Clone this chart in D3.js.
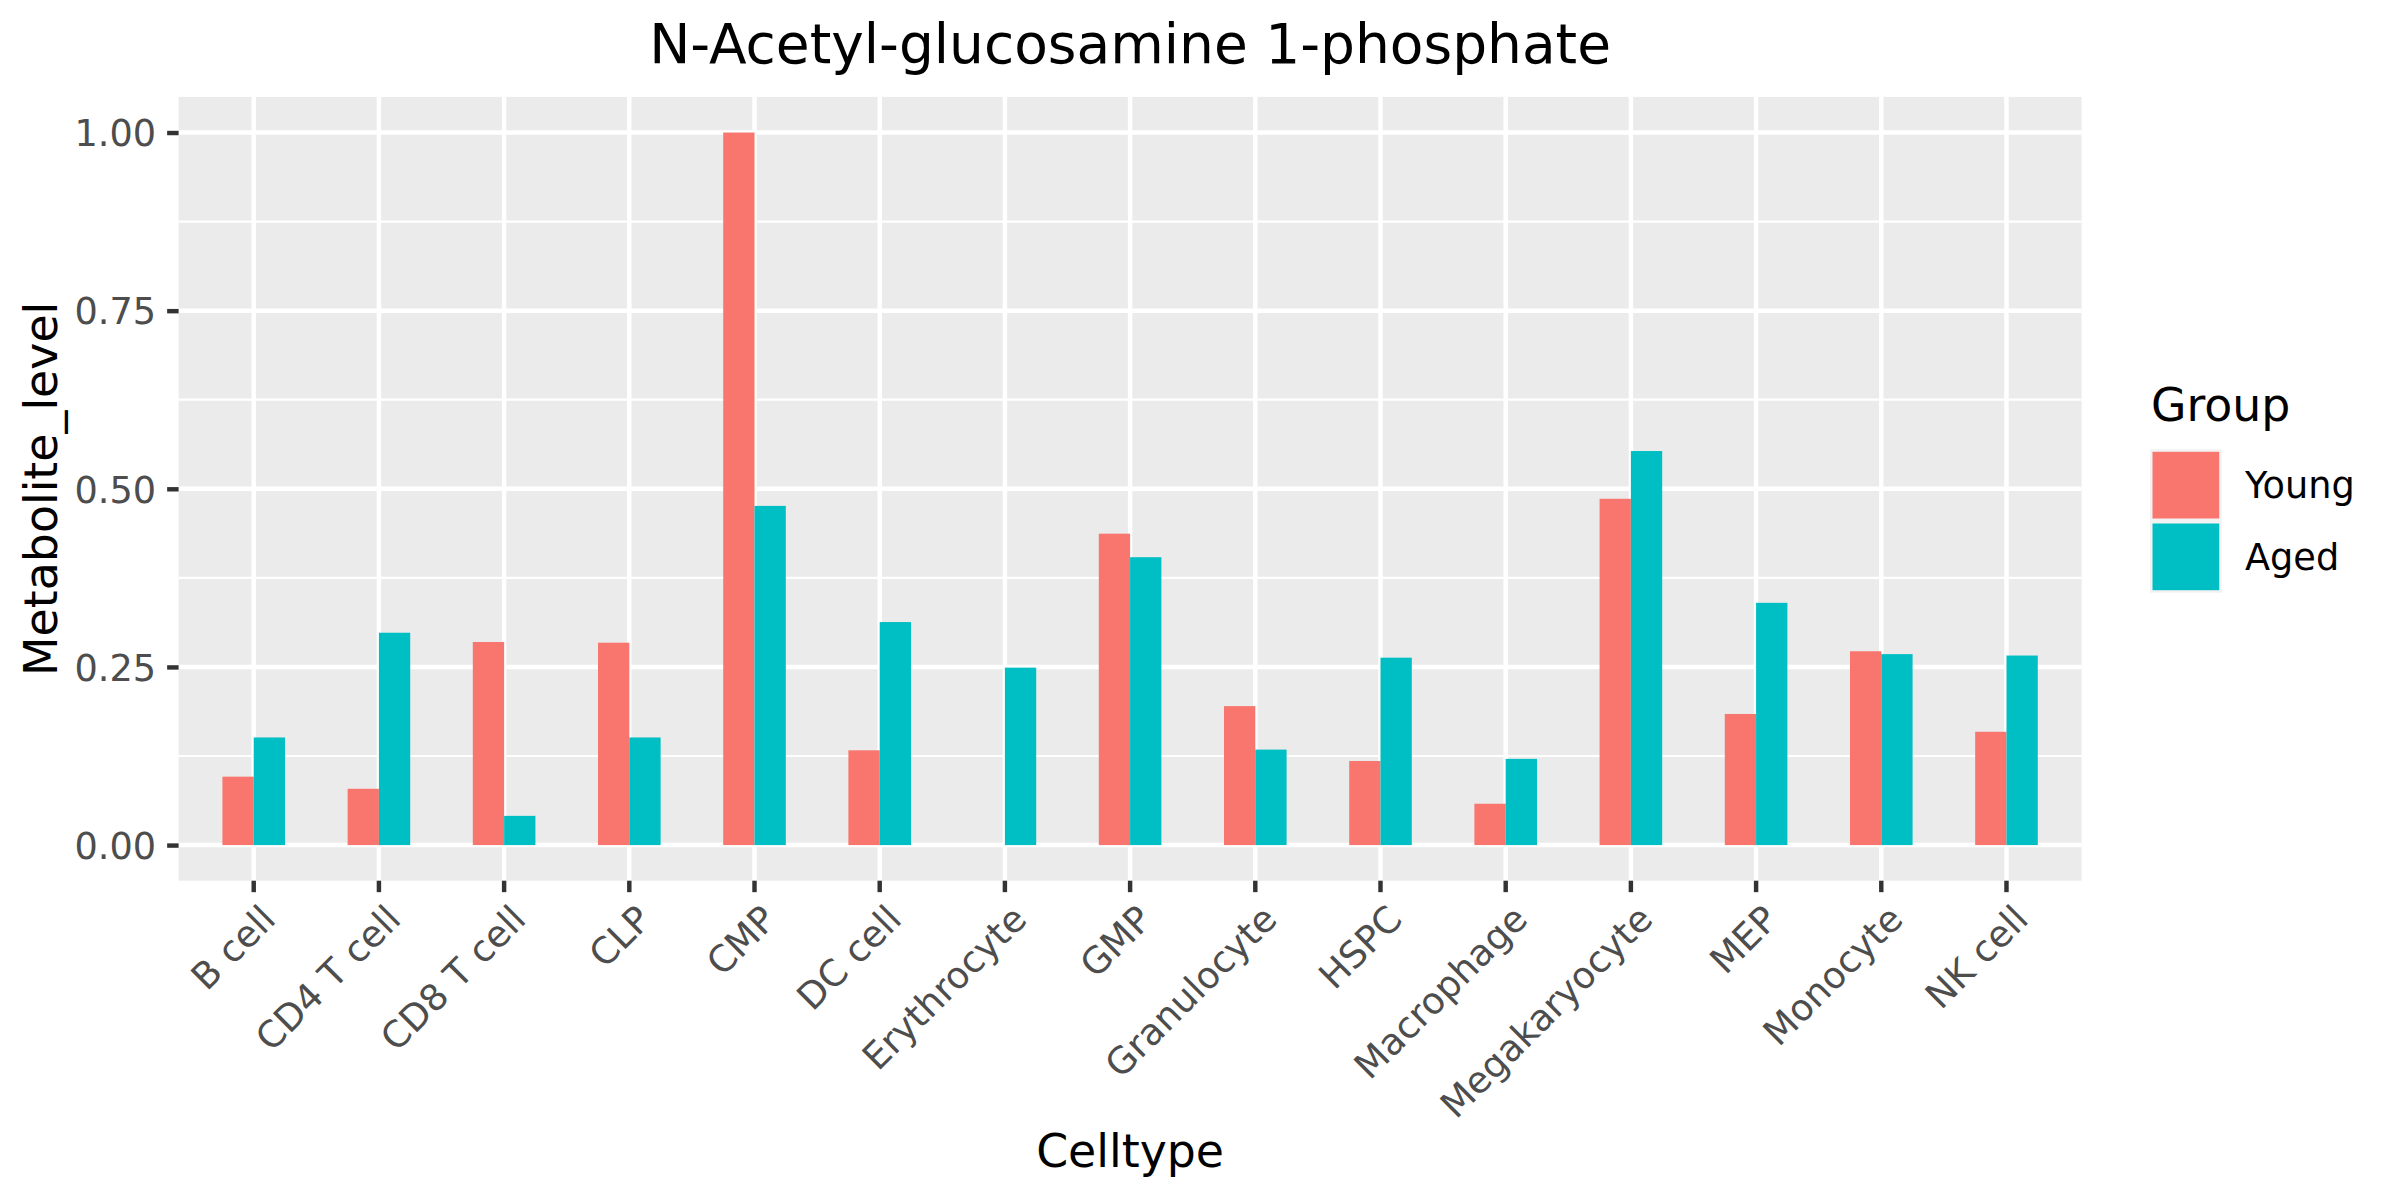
<!DOCTYPE html>
<html>
<head>
<meta charset="utf-8">
<script src="https://cdn.jsdelivr.net/npm/d3@7"></script>
<style>
  html, body { margin: 0; padding: 0; background: #ffffff; }
  svg { display: block; }
  text { font-family: "DejaVu Sans", sans-serif; }
</style>
</head>
<body>
<svg id="chart" width="2400" height="1200"></svg>
<script>
const titleText = "N-Acetyl-glucosamine 1-phosphate";
const xTitle = "Celltype";
const yTitle = "Metabolite_level";
const legendTitle = "Group";
const categories = ["B cell","CD4 T cell","CD8 T cell","CLP","CMP","DC cell","Erythrocyte","GMP","Granulocyte","HSPC","Macrophage","Megakaryocyte","MEP","Monocyte","NK cell"];
const groups = ["Young","Aged"];
const youngValues = [0.096,0.079,0.285,0.284,1.000,0.133,0.000,0.437,0.195,0.118,0.058,0.486,0.184,0.272,0.159];
const agedValues  = [0.151,0.298,0.041,0.151,0.476,0.313,0.249,0.404,0.134,0.263,0.121,0.553,0.340,0.268,0.266];
const yTicks = [0, 0.25, 0.5, 0.75, 1.0];
const yMinorTicks = [0.125, 0.375, 0.625, 0.875];
const groupColors = ["#F8766D", "#00BFC4"];

const svg = d3.select("#chart");
const panel = { left: 178.6, right: 2081.6, top: 96.9, bottom: 880.7 };

const x = d3.scaleBand().domain(categories).range([panel.left, panel.right]).paddingInner(0).paddingOuter(0.1);
const step = x.step();
const xSub = d3.scaleBand().domain(groups).range([0.25 * step, 0.75 * step]).padding(0);
const y = d3.scaleLinear().domain([-0.05, 1.05]).range([panel.bottom, panel.top]);
const color = d3.scaleOrdinal().domain(groups).range(groupColors);

const seriesData = [];
categories.forEach((c, i) => {
  seriesData.push({ cat: c, group: "Young", value: youngValues[i] });
  seriesData.push({ cat: c, group: "Aged", value: agedValues[i] });
});

// panel background
svg.append("rect").attr("x", panel.left).attr("y", panel.top)
  .attr("width", panel.right - panel.left).attr("height", panel.bottom - panel.top)
  .attr("fill", "#EBEBEB");

const grid = svg.append("g");
grid.selectAll("line.minor").data(yMinorTicks).join("line")
  .attr("x1", panel.left).attr("x2", panel.right)
  .attr("y1", d => y(d)).attr("y2", d => y(d))
  .attr("stroke", "#ffffff").attr("stroke-width", 2.22);
grid.selectAll("line.majory").data(yTicks).join("line")
  .attr("x1", panel.left).attr("x2", panel.right)
  .attr("y1", d => y(d)).attr("y2", d => y(d))
  .attr("stroke", "#ffffff").attr("stroke-width", 4.44);
grid.selectAll("line.majorx").data(categories).join("line")
  .attr("x1", d => x(d) + step / 2).attr("x2", d => x(d) + step / 2)
  .attr("y1", panel.top).attr("y2", panel.bottom)
  .attr("stroke", "#ffffff").attr("stroke-width", 4.44);

// bars
svg.append("g").selectAll("rect").data(seriesData.filter(d => d.value > 0)).join("rect")
  .attr("x", d => x(d.cat) + xSub(d.group))
  .attr("width", xSub.bandwidth())
  .attr("y", d => y(d.value))
  .attr("height", d => y(0) - y(d.value))
  .attr("fill", d => color(d.group));

// y axis
const yAxis = d3.axisLeft(y).tickValues(yTicks).tickFormat(d3.format(".2f")).tickSize(11.46).tickPadding(11);
const gy = svg.append("g").attr("transform", `translate(${panel.left},0)`).call(yAxis);
gy.select(".domain").remove();
gy.selectAll(".tick line").attr("stroke", "#333333").attr("stroke-width", 4.44);
gy.selectAll(".tick text").attr("fill", "#4D4D4D").attr("font-size", 36.67)
  .attr("font-family", "DejaVu Sans").attr("dy", "0.36em");

// x axis
const xAxis = d3.axisBottom(x).tickSize(11.46).tickPadding(9);
const gx = svg.append("g").attr("transform", `translate(0,${panel.bottom})`).call(xAxis);
gx.select(".domain").remove();
gx.selectAll(".tick line").attr("stroke", "#333333").attr("stroke-width", 4.44);
gx.selectAll(".tick text")
  .attr("fill", "#4D4D4D").attr("font-size", 36.67).attr("font-family", "DejaVu Sans")
  .attr("text-anchor", "end")
  .attr("x", 0).attr("y", 0).attr("dy", "0.76em")
  .attr("transform", "translate(4,21) rotate(-45)");

// title
svg.append("text").attr("x", (panel.left + panel.right) / 2).attr("y", 63)
  .attr("text-anchor", "middle").attr("font-size", 55).attr("fill", "#000").text(titleText);

// axis titles
svg.append("text").attr("x", (panel.left + panel.right) / 2).attr("y", 1167)
  .attr("text-anchor", "middle").attr("font-size", 45.8).attr("fill", "#000").text(xTitle);
svg.append("text").attr("transform", `translate(57,${(panel.top + panel.bottom) / 2}) rotate(-90)`)
  .attr("text-anchor", "middle").attr("font-size", 45.8).attr("fill", "#000").text(yTitle);

// legend
const lg = svg.append("g");
lg.append("text").attr("x", 2151).attr("y", 421).attr("font-size", 45.8).attr("fill", "#000").text(legendTitle);
const keySize = 71.7;
const keyTop = 449.3;
const items = lg.selectAll("g.item").data(groups).join("g")
  .attr("transform", (d, i) => `translate(2150,${keyTop + i * keySize})`);
items.append("rect").attr("width", keySize).attr("height", keySize).attr("fill", "#F2F2F2");
items.append("rect").attr("x", 2.5).attr("y", 2.5).attr("width", keySize - 5).attr("height", keySize - 5)
  .attr("fill", d => color(d));
items.append("text").attr("x", 95).attr("y", keySize / 2).attr("dy", "0.36em")
  .attr("font-size", 36.67).attr("fill", "#000").text(d => d);
</script>
</body>
</html>
